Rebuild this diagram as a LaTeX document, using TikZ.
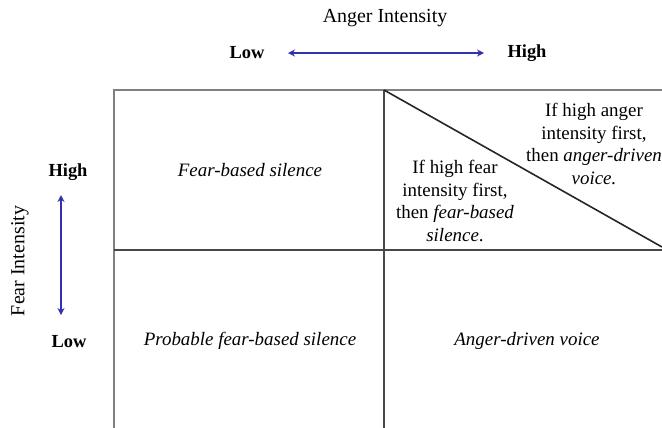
\documentclass[tikz,border=0pt]{standalone}
\usepackage{fontspec}
\setmainfont{Liberation Serif}
\usetikzlibrary{arrows.meta}
\begin{document}
\begin{tikzpicture}[x=1bp,y=-1bp,
  outerline/.style={draw=black!50,line width=2bp},
  innerline/.style={draw=black!72,line width=2bp},
  axistitle/.style={inner sep=0pt,font=\fontsize{20}{24}\selectfont},
  axislabel/.style={inner sep=0pt,font=\fontsize{18.5}{22}\selectfont\bfseries},
  celltext/.style={inner sep=0pt,align=center,font=\fontsize{19}{22.5}\selectfont},
  axisarrow/.style={draw={rgb,255:red,50;green,50;blue,175},line width=2.6bp,
    {Stealth[length=7bp,width=7bp]}-{Stealth[length=7bp,width=7bp]}}]
\useasboundingbox (0,0) rectangle (662,427);
\clip (0,0) rectangle (662,427);
% grid
\coordinate (tl) at (114,90);
\coordinate (tm) at (384,90);
\coordinate (tr) at (663,90);
\coordinate (ml) at (114,250);
\coordinate (mr) at (663,250);
\coordinate (bl) at (114,428);
\coordinate (bm) at (384,428);
\coordinate (dr) at (662,247);
\draw[outerline] (bl) -- (tl) -- (tr);
\draw[innerline] (tm) -- (bm);
\draw[innerline] (ml) -- (mr);
\draw[innerline,draw=black!85,line width=1.6bp] (tm) -- (dr);
% axis titles
\node[axistitle] (anger) at (385,18) {Anger Intensity};
\node[axistitle,rotate=90] (fear) at (20,261) {Fear Intensity};
% axis labels
\node[axislabel] (alow) at (247,53) {Low};
\node[axislabel] (ahigh) at (527,53) {High};
\node[axislabel] (fhigh) at (68,172) {High};
\node[axislabel] (flow) at (69,342) {Low};
\coordinate (a1) at (288,53);
\coordinate (a2) at (484,53);
\coordinate (f1) at (61,195);
\coordinate (f2) at (61,315);
\draw[axisarrow] (a1) -- (a2);
\draw[axisarrow] (f1) -- (f2);
% cells
\node[celltext] (c11) at (250,170) {\itshape Fear-based silence};
\node[celltext] (c21) at (250,341) {\itshape Probable fear-based silence};
\node[celltext] (c22) at (527,341) {\itshape Anger-driven voice};
\node[celltext] (c12a) at (455,201) {If high fear\\intensity first,\\then \textit{fear-based}\\\textit{silence}.};
\node[celltext] (c12b) at (594,144) {If high anger\\intensity first,\\then \textit{anger-driven}\\\textit{voice.}};
\end{tikzpicture}
\end{document}
